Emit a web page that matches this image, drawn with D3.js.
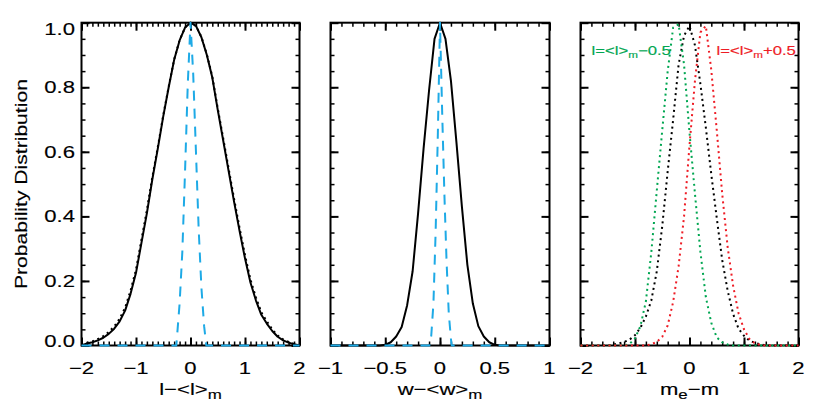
<!DOCTYPE html>
<html><head><meta charset="utf-8">
<script src="https://cdn.jsdelivr.net/npm/d3@7"></script>
<style>body{margin:0;background:#fff}svg{display:block}</style>
</head><body>
<svg width="830" height="402"></svg>
<script>
// ---------------- data ----------------
const yTicks = [0, 0.2, 0.4, 0.6, 0.8, 1.0];
const p1Ticks = [-2, -1, 0, 1, 2];
const p2Ticks = [-1, -0.5, 0, 0.5, 1];
const p3Ticks = [-2, -1, 0, 1, 2];

const p1X = [-2.0,-1.9,-1.8,-1.7,-1.6,-1.5,-1.4,-1.3,-1.2,-1.1,-1.0,-0.9,-0.8,-0.7,-0.6,-0.5,-0.4,-0.3,-0.2,-0.1,0.0,
             0.1,0.2,0.3,0.4,0.5,0.6,0.7,0.8,0.9,1.0,1.1,1.2,1.3,1.4,1.5,1.6,1.7,1.8,1.9,2.0];
const p1Solid = [0.0,0.006,0.010,0.016,0.024,0.036,0.052,0.075,0.108,0.16,0.225,0.318,0.41,0.515,0.61,0.71,0.80,0.885,0.945,0.985,1.0,
                 0.99,0.955,0.90,0.83,0.73,0.635,0.54,0.445,0.355,0.27,0.195,0.14,0.095,0.068,0.045,0.027,0.016,0.009,0.004,0.0];
const p1Dotted = [0.002,0.008,0.013,0.02,0.029,0.042,0.059,0.083,0.117,0.17,0.235,0.328,0.42,0.522,0.615,0.713,0.802,0.886,0.946,0.985,1.0,
                  0.99,0.956,0.902,0.833,0.735,0.642,0.548,0.454,0.364,0.28,0.205,0.149,0.103,0.075,0.05,0.031,0.019,0.011,0.005,0.001];
const p1DashX = [-2.0,-0.26,-0.2,-0.15,-0.1,-0.05,0.0,0.05,0.1,0.15,0.2,0.25,0.29,2.0];
const p1Dash  = [0,0,0.13,0.29,0.54,0.81,1.0,0.84,0.6,0.36,0.18,0.06,0,0];

const p2X = [-1.0,-0.95,-0.9,-0.85,-0.8,-0.75,-0.7,-0.65,-0.6,-0.55,-0.5,-0.45,-0.4,-0.35,-0.3,-0.25,-0.2,-0.15,-0.1,-0.05,0.0,
             0.05,0.1,0.15,0.2,0.25,0.3,0.35,0.4,0.45,0.5,0.55,0.6,0.65,0.7,0.75,0.8,0.85,0.9,0.95,1.0];
const p2Solid = [0,0,0,0,0,0,0,0,0,0,0.002,0.01,0.028,0.057,0.125,0.23,0.41,0.61,0.79,0.95,1.0,
                 0.95,0.82,0.63,0.43,0.25,0.13,0.06,0.028,0.01,0.002,0,0,0,0,0,0,0,0,0,0];
const p2DashX = [-1.0,-0.097,-0.08,-0.06,-0.04,-0.02,0.0,0.02,0.04,0.06,0.08,0.1,0.107,1.0];
const p2Dash  = [0,0,0.03,0.13,0.35,0.65,1.0,0.72,0.47,0.26,0.1,0.02,0,0];

const p3X = p1X.slice();
const p3Black = [0,0,0,0,0,0,0.003,0.006,0.011,0.018,0.032,0.055,0.09,0.14,0.23,0.37,0.54,0.70,0.87,0.96,0.99,
                 0.93,0.81,0.675,0.53,0.395,0.265,0.17,0.098,0.052,0.03,0.015,0.008,0.004,0,0,0,0,0,0,0];
const p3Green = [0,0,0,0,0,0,0,0,0,0.005,0.022,0.06,0.137,0.29,0.48,0.667,0.85,0.985,0.995,0.87,0.66,
                 0.47,0.29,0.15,0.07,0.025,0.01,0.003,0,0,0,0,0,0,0,0,0,0,0,0,0];
const p3Red   = [0,0,0,0,0,0,0,0,0,0,0,0,0,0.004,0.011,0.027,0.062,0.135,0.245,0.40,0.62,
                 0.82,0.97,0.99,0.853,0.667,0.47,0.305,0.185,0.10,0.05,0.02,0.007,0.002,0,0,0,0,0,0,0];

const legendLo = ["l=<l>", "m", "\u22120.5"];
const legendHi = ["l=<l>", "m", "+0.5"];

// ---------------- layout ----------------
const FONT = "'Liberation Sans', Arial, Helvetica, sans-serif";
const CYAN = "#1eaae6", GREEN = "#00a651", RED = "#ee1c25";
const svg = d3.select("svg");
const TOP = 22.7, BOT = 345.5;
const y = d3.scaleLinear().domain([0, 1]).range([BOT, TOP]);
const fmtX = d => (d < 0 ? "\u2212" : "") + Math.abs(d);

const panels = [
  {x0: 81.5, x1: 299.5, dom: [-2, 2], ticks: p1Ticks, minor: 0.1,
   title: ["l\u2212<l>", "m", ""]},
  {x0: 330.5, x1: 549.5, dom: [-1, 1], ticks: p2Ticks, minor: 0.1,
   title: ["w\u2212<w>", "m", ""]},
  {x0: 580.5, x1: 798.5, dom: [-2, 2], ticks: p3Ticks, minor: 0.2,
   title: ["m", "e", "\u2212m"]}
];

function stext(x, yy, anchor, size, parts, color, sx, subSize, subDy, rot) {
  const t = svg.append("text")
    .attr("transform", `translate(${x},${yy})` + (rot ? ` rotate(${rot})` : "") + ` scale(${sx},1)`)
    .attr("text-anchor", anchor).attr("font-family", FONT)
    .attr("font-size", size).attr("fill", color)
    .attr("stroke", color).attr("stroke-width", 0.15);
  if (typeof parts === "string") { t.text(parts); return t; }
  t.append("tspan").text(parts[0]);
  if (parts[1]) t.append("tspan").attr("font-size", subSize).attr("dy", subDy).text(parts[1]);
  if (parts[2]) t.append("tspan").attr("dy", -subDy).text(parts[2]);
  return t;
}

const yMinor = d3.range(0, 1.0001, 0.05);

panels.forEach((p, i) => {
  const x = d3.scaleLinear().domain(p.dom).range([p.x0, p.x1]);
  p.x = x;
  const xMinor = d3.range(p.dom[0], p.dom[1] + 1e-6, p.minor);
  const g = svg.append("g");
  const mk = (axis, tr, vals, len, w) => {
    const a = g.append("g").attr("transform", tr)
      .call(axis.tickValues(vals).tickSize(-len).tickFormat(""));
    a.select(".domain").remove();
    a.selectAll("line").attr("stroke", "#000").attr("stroke-width", w);
  };
  mk(d3.axisBottom(x), `translate(0,${BOT})`, xMinor, 4, 1.5);
  mk(d3.axisBottom(x), `translate(0,${BOT})`, p.ticks, 8, 2);
  mk(d3.axisTop(x), `translate(0,${TOP})`, xMinor, 4, 1.5);
  mk(d3.axisTop(x), `translate(0,${TOP})`, p.ticks, 8, 2);
  mk(d3.axisLeft(y), `translate(${p.x0},0)`, yMinor, 4, 1.5);
  mk(d3.axisLeft(y), `translate(${p.x0},0)`, yTicks, 8, 2);
  mk(d3.axisRight(y), `translate(${p.x1},0)`, yMinor, 4, 1.5);
  mk(d3.axisRight(y), `translate(${p.x1},0)`, yTicks, 8, 2);
  g.append("rect").attr("x", p.x0).attr("y", TOP).attr("width", p.x1 - p.x0).attr("height", BOT - TOP)
    .attr("fill", "none").attr("stroke", "#000").attr("stroke-width", 2);

  // x tick labels
  p.ticks.forEach(t => stext(x(t), 374, "middle", 17, fmtX(t), "#000", 1.3));
  // x title
  stext((p.x0 + p.x1) / 2, 395, "middle", 17, p.title, "#000", 1.3, 13, 4);
});

// y tick labels (panel 1 only), end labels kept inside the frame
yTicks.forEach(t => {
  const c = Math.min(Math.max(y(t), TOP + 6.2), BOT - 5);
  stext(75, c + 6.1, "end", 17, d3.format(".1f")(t), "#000", 1.3);
});
stext(26.5, (TOP + BOT) / 2, "middle", 16, "Probability Distribution", "#000", 1.32, 0, 0, -90);

// ---------------- curves ----------------
function draw(p, xs, ys, color, dash, w) {
  const line = d3.line().x(d => p.x(d[0])).y(d => y(d[1]));
  svg.append("path").attr("d", line(xs.map((v, k) => [v, ys[k]])))
    .attr("fill", "none").attr("stroke", color).attr("stroke-width", w)
    .attr("stroke-dasharray", dash).attr("stroke-linejoin", "round");
}
const DOT = "2,3.6", DASH = "10,8";
draw(panels[0], p1X, p1Dotted, "#000", DOT, 2);
draw(panels[0], p1X, p1Solid, "#000", null, 2);
draw(panels[0], p1DashX, p1Dash, CYAN, DASH, 2);

draw(panels[1], p2X, p2Solid, "#000", null, 2);
draw(panels[1], p2DashX, p2Dash, CYAN, DASH, 2);

draw(panels[2], p3X, p3Black, "#000", DOT, 2);
draw(panels[2], p3X, p3Green, GREEN, DOT, 2);
draw(panels[2], p3X, p3Red, RED, DOT, 2);

// legends in panel 3
stext(591.5, 55, "start", 12.2, legendLo, GREEN, 1.37, 8.5, 2.5);
stext(716.5, 55, "start", 12.2, legendHi, RED, 1.37, 8.5, 2.5);
</script>
</body></html>
